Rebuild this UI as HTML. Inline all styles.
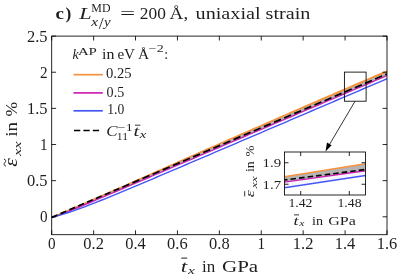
<!DOCTYPE html><html><head><meta charset="utf-8"><style>html,body{margin:0;padding:0;background:#fff}svg{display:block}</style></head><body><svg width="401" height="277" viewBox="0 0 401 277" font-family="'Liberation Serif', serif" fill="#000">
<rect width="401" height="277" fill="#fff"/>
<defs><filter id="gf" x="0" y="0" width="401" height="277" filterUnits="userSpaceOnUse"><feOffset dx="0" dy="0"/></filter><clipPath id="cm"><rect x="51.70" y="36.10" width="335.30" height="198.60"/></clipPath><clipPath id="ci"><rect x="284.50" y="152.00" width="81.00" height="43.00"/></clipPath></defs>
<g clip-path="url(#cm)" fill="none" stroke-linecap="butt">
<path d="M51.70,217.38 L55.89,215.58 L60.08,213.79 L64.27,211.99 L68.46,210.18 L72.66,208.37 L76.85,206.56 L81.04,204.75 L85.23,202.93 L89.42,201.11 L93.61,199.29 L97.80,197.46 L101.99,195.63 L106.19,193.80 L110.38,191.97 L114.57,190.13 L118.76,188.29 L122.95,186.45 L127.14,184.61 L131.33,182.77 L135.52,180.92 L139.72,179.07 L143.91,177.23 L148.10,175.38 L152.29,173.53 L156.48,171.68 L160.67,169.83 L164.86,167.97 L169.05,166.12 L173.24,164.27 L177.44,162.42 L181.63,160.57 L185.82,158.72 L190.01,156.87 L194.20,155.02 L198.39,153.17 L202.58,151.32 L206.77,149.47 L210.97,147.63 L215.16,145.78 L219.35,143.94 L223.54,142.10 L227.73,140.26 L231.92,138.42 L236.11,136.58 L240.30,134.74 L244.50,132.91 L248.69,131.07 L252.88,129.24 L257.07,127.41 L261.26,125.58 L265.45,123.75 L269.64,121.93 L273.83,120.10 L278.02,118.28 L282.22,116.46 L286.41,114.64 L290.60,112.82 L294.79,111.00 L298.98,109.18 L303.17,107.37 L307.36,105.55 L311.55,103.74 L315.75,101.93 L319.94,100.12 L324.13,98.31 L328.32,96.50 L332.51,94.70 L336.70,92.89 L340.89,91.09 L345.08,89.28 L349.28,87.48 L353.47,85.68 L357.66,83.87 L361.85,82.07 L366.04,80.27 L370.23,78.47 L374.42,76.67 L378.61,74.87 L382.80,73.08 L387.00,71.28 L387.00,75.56 L382.80,77.36 L378.61,79.15 L374.42,80.94 L370.23,82.74 L366.04,84.53 L361.85,86.32 L357.66,88.11 L353.47,89.91 L349.28,91.70 L345.08,93.49 L340.89,95.28 L336.70,97.08 L332.51,98.87 L328.32,100.66 L324.13,102.45 L319.94,104.25 L315.75,106.04 L311.55,107.83 L307.36,109.62 L303.17,111.42 L298.98,113.21 L294.79,115.00 L290.60,116.79 L286.41,118.59 L282.22,120.38 L278.02,122.17 L273.83,123.96 L269.64,125.76 L265.45,127.55 L261.26,129.34 L257.07,131.13 L252.88,132.93 L248.69,134.72 L244.50,136.51 L240.30,138.30 L236.11,140.10 L231.92,141.89 L227.73,143.68 L223.54,145.47 L219.35,147.27 L215.16,149.06 L210.97,150.85 L206.77,152.64 L202.58,154.44 L198.39,156.23 L194.20,158.02 L190.01,159.81 L185.82,161.61 L181.63,163.40 L177.44,165.19 L173.24,166.98 L169.05,168.78 L164.86,170.57 L160.67,172.36 L156.48,174.15 L152.29,175.95 L148.10,177.74 L143.91,179.53 L139.72,181.32 L135.52,183.12 L131.33,184.91 L127.14,186.70 L122.95,188.49 L118.76,190.28 L114.57,192.07 L110.38,193.86 L106.19,195.64 L101.99,197.43 L97.80,199.21 L93.61,200.99 L89.42,202.76 L85.23,204.52 L81.04,206.27 L76.85,208.00 L72.66,209.71 L68.46,211.38 L64.27,213.01 L60.08,214.57 L55.89,216.04 L51.70,217.38Z" fill="#b4b4b4" stroke="none"/>
<path d="M51.70,216.68 L55.89,214.88 L60.08,213.08 L64.27,211.27 L68.46,209.46 L72.66,207.65 L76.85,205.83 L81.04,204.01 L85.23,202.19 L89.42,200.36 L93.61,198.54 L97.80,196.71 L101.99,194.87 L106.19,193.03 L110.38,191.20 L114.57,189.35 L118.76,187.51 L122.95,185.67 L127.14,183.82 L131.33,181.97 L135.52,180.12 L139.72,178.27 L143.91,176.42 L148.10,174.56 L152.29,172.71 L156.48,170.85 L160.67,169.00 L164.86,167.14 L169.05,165.28 L173.24,163.43 L177.44,161.57 L181.63,159.71 L185.82,157.86 L190.01,156.00 L194.20,154.15 L198.39,152.29 L202.58,150.44 L206.77,148.59 L210.97,146.74 L215.16,144.89 L219.35,143.04 L223.54,141.19 L227.73,139.35 L231.92,137.50 L236.11,135.66 L240.30,133.82 L244.50,131.98 L248.69,130.14 L252.88,128.30 L257.07,126.46 L261.26,124.63 L265.45,122.80 L269.64,120.97 L273.83,119.14 L278.02,117.31 L282.22,115.48 L286.41,113.66 L290.60,111.83 L294.79,110.01 L298.98,108.19 L303.17,106.37 L307.36,104.55 L311.55,102.73 L315.75,100.92 L319.94,99.10 L324.13,97.29 L328.32,95.47 L332.51,93.66 L336.70,91.85 L340.89,90.04 L345.08,88.23 L349.28,86.42 L353.47,84.62 L357.66,82.81 L361.85,81.00 L366.04,79.20 L370.23,77.39 L374.42,75.59 L378.61,73.78 L382.80,71.98 L387.00,70.18 L387.00,72.38 L382.80,74.17 L378.61,75.96 L374.42,77.76 L370.23,79.55 L366.04,81.35 L361.85,83.14 L357.66,84.94 L353.47,86.74 L349.28,88.53 L345.08,90.33 L340.89,92.13 L336.70,93.93 L332.51,95.73 L328.32,97.53 L324.13,99.34 L319.94,101.14 L315.75,102.95 L311.55,104.75 L307.36,106.56 L303.17,108.37 L298.98,110.18 L294.79,111.99 L290.60,113.80 L286.41,115.62 L282.22,117.43 L278.02,119.25 L273.83,121.07 L269.64,122.89 L265.45,124.71 L261.26,126.53 L257.07,128.35 L252.88,130.18 L248.69,132.01 L244.50,133.84 L240.30,135.67 L236.11,137.50 L231.92,139.33 L227.73,141.17 L223.54,143.00 L219.35,144.84 L215.16,146.68 L210.97,148.52 L206.77,150.36 L202.58,152.20 L198.39,154.04 L194.20,155.89 L190.01,157.73 L185.82,159.58 L181.63,161.42 L177.44,163.27 L173.24,165.12 L169.05,166.96 L164.86,168.81 L160.67,170.66 L156.48,172.50 L152.29,174.35 L148.10,176.19 L143.91,178.04 L139.72,179.88 L135.52,181.72 L131.33,183.56 L127.14,185.40 L122.95,187.24 L118.76,189.07 L114.57,190.90 L110.38,192.74 L106.19,194.56 L101.99,196.39 L97.80,198.22 L93.61,200.04 L89.42,201.85 L85.23,203.67 L81.04,205.48 L76.85,207.29 L72.66,209.10 L68.46,210.90 L64.27,212.70 L60.08,214.50 L55.89,216.29 L51.70,218.08Z" fill="#f5923e" stroke="none"/>
<path d="M51.70,217.38 L55.89,216.04 L60.08,214.57 L64.27,213.01 L68.46,211.38 L72.66,209.71 L76.85,208.00 L81.04,206.27 L85.23,204.52 L89.42,202.76 L93.61,200.99 L97.80,199.21 L101.99,197.43 L106.19,195.64 L110.38,193.86 L114.57,192.07 L118.76,190.28 L122.95,188.49 L127.14,186.70 L131.33,184.91 L135.52,183.12 L139.72,181.32 L143.91,179.53 L148.10,177.74 L152.29,175.95 L156.48,174.15 L160.67,172.36 L164.86,170.57 L169.05,168.78 L173.24,166.98 L177.44,165.19 L181.63,163.40 L185.82,161.61 L190.01,159.81 L194.20,158.02 L198.39,156.23 L202.58,154.44 L206.77,152.64 L210.97,150.85 L215.16,149.06 L219.35,147.27 L223.54,145.47 L227.73,143.68 L231.92,141.89 L236.11,140.10 L240.30,138.30 L244.50,136.51 L248.69,134.72 L252.88,132.93 L257.07,131.13 L261.26,129.34 L265.45,127.55 L269.64,125.76 L273.83,123.96 L278.02,122.17 L282.22,120.38 L286.41,118.59 L290.60,116.79 L294.79,115.00 L298.98,113.21 L303.17,111.42 L307.36,109.62 L311.55,107.83 L315.75,106.04 L319.94,104.25 L324.13,102.45 L328.32,100.66 L332.51,98.87 L336.70,97.08 L340.89,95.28 L345.08,93.49 L349.28,91.70 L353.47,89.91 L357.66,88.11 L361.85,86.32 L366.04,84.53 L370.23,82.74 L374.42,80.94 L378.61,79.15 L382.80,77.36 L387.00,75.56" stroke="#cc22b4" stroke-width="1.4"/>
<path d="M51.70,217.38 L55.89,216.32 L60.08,215.15 L64.27,213.88 L68.46,212.53 L72.66,211.11 L76.85,209.64 L81.04,208.12 L85.23,206.55 L89.42,204.95 L93.61,203.32 L97.80,201.67 L101.99,199.99 L106.19,198.30 L110.38,196.59 L114.57,194.87 L118.76,193.14 L122.95,191.39 L127.14,189.65 L131.33,187.89 L135.52,186.13 L139.72,184.36 L143.91,182.59 L148.10,180.82 L152.29,179.04 L156.48,177.26 L160.67,175.48 L164.86,173.70 L169.05,171.91 L173.24,170.13 L177.44,168.34 L181.63,166.55 L185.82,164.76 L190.01,162.98 L194.20,161.19 L198.39,159.40 L202.58,157.61 L206.77,155.81 L210.97,154.02 L215.16,152.23 L219.35,150.44 L223.54,148.65 L227.73,146.86 L231.92,145.07 L236.11,143.27 L240.30,141.48 L244.50,139.69 L248.69,137.90 L252.88,136.11 L257.07,134.31 L261.26,132.52 L265.45,130.73 L269.64,128.94 L273.83,127.14 L278.02,125.35 L282.22,123.56 L286.41,121.77 L290.60,119.97 L294.79,118.18 L298.98,116.39 L303.17,114.60 L307.36,112.80 L311.55,111.01 L315.75,109.22 L319.94,107.43 L324.13,105.63 L328.32,103.84 L332.51,102.05 L336.70,100.26 L340.89,98.46 L345.08,96.67 L349.28,94.88 L353.47,93.09 L357.66,91.29 L361.85,89.50 L366.04,87.71 L370.23,85.92 L374.42,84.12 L378.61,82.33 L382.80,80.54 L387.00,78.75" stroke="#4457f5" stroke-width="1.4"/>
<path d="M51.70,217.38 L122.30,187.18" stroke="#000" stroke-width="1.7" stroke-dasharray="6.2 3.42"/>
<path d="M122.30,187.18 L387.00,73.97" stroke="#000" stroke-width="1.7" stroke-dasharray="7.5 3.5"/>
</g>
<rect x="51.70" y="36.10" width="335.30" height="198.60" fill="none" stroke="#000" stroke-width="0.85"/>
<path d="M51.70,234.70 v-4.40 M51.70,36.10 v4.40 M93.61,234.70 v-4.40 M93.61,36.10 v4.40 M135.52,234.70 v-4.40 M135.52,36.10 v4.40 M177.44,234.70 v-4.40 M177.44,36.10 v4.40 M219.35,234.70 v-4.40 M219.35,36.10 v4.40 M261.26,234.70 v-4.40 M261.26,36.10 v4.40 M303.17,234.70 v-4.40 M303.17,36.10 v4.40 M345.08,234.70 v-4.40 M345.08,36.10 v4.40 M387.00,234.70 v-4.40 M387.00,36.10 v4.40 M51.70,216.80 h4.40 M387.00,216.80 h-4.40 M51.70,180.66 h4.40 M387.00,180.66 h-4.40 M51.70,144.52 h4.40 M387.00,144.52 h-4.40 M51.70,108.38 h4.40 M387.00,108.38 h-4.40 M51.70,72.24 h4.40 M387.00,72.24 h-4.40 M51.70,36.10 h4.40 M387.00,36.10 h-4.40" stroke="#000" stroke-width="0.85" fill="none"/>
<rect x="344.4" y="72.1" width="21.7" height="29.1" fill="none" stroke="#000" stroke-width="0.85"/>
<path d="M355,101.3 L328.5,146.2" stroke="#000" stroke-width="0.8" fill="none"/>
<path d="M325.5,151.4 L327.0,142.6 L331.6,145.3 Z" fill="#000"/>
<rect x="284.50" y="152.00" width="81.00" height="43.00" fill="#fff"/>
<g clip-path="url(#ci)" fill="none">
<path d="M284.5,176.8 L365.5,163.8 L365.5,170.8 L284.5,182.1Z" fill="#b4b4b4"/>
<path d="M284.5,182.1 L365.5,170.8 L365.5,175.5 L284.5,187.7Z" fill="#f6f5fc"/>
<path d="M284.5,176.8 L365.5,163.8" stroke="#f5923e" stroke-width="1.4"/>
<path d="M284.5,182.1 L365.5,170.8" stroke="#cc22b4" stroke-width="1.4"/>
<path d="M284.5,187.7 L365.5,175.5" stroke="#4457f5" stroke-width="1.4"/>
<path d="M284.5,180.0 L365.5,169.5" stroke="#000" stroke-width="1.6" stroke-dasharray="5.5 3.1" stroke-dashoffset="2.5"/>
</g>
<rect x="284.50" y="152.00" width="81.00" height="43.00" fill="none" stroke="#000" stroke-width="0.85"/>
<path d="M300.70,195.00 v-4.00 M300.70,152.00 v4.00 M349.30,195.00 v-4.00 M349.30,152.00 v4.00 M284.50,184.25 h4.00 M365.50,184.25 h-4.00 M284.50,162.75 h4.00 M365.50,162.75 h-4.00" stroke="#000" stroke-width="0.85" fill="none"/>
<path d="M73.5,74.7 H102.8" stroke="#f5923e" stroke-width="1.7"/>
<path d="M73.5,92.9 H102.8" stroke="#cc22b4" stroke-width="1.7"/>
<path d="M73.5,110.8 H102.8" stroke="#4457f5" stroke-width="1.7"/>
<path d="M74,130.5 H100" stroke="#000" stroke-width="1.6" stroke-dasharray="6.3 3.1"/>
<g opacity="0.88" filter="url(#gf)">
<text x="40.00" y="222.40" font-size="16.40" text-anchor="start" textLength="7.60" lengthAdjust="spacingAndGlyphs" >0</text>
<text x="27.00" y="186.26" font-size="16.40" text-anchor="start" textLength="20.60" lengthAdjust="spacingAndGlyphs" >0.5</text>
<text x="40.00" y="150.12" font-size="16.40" text-anchor="start" textLength="7.60" lengthAdjust="spacingAndGlyphs" >1</text>
<text x="27.00" y="113.98" font-size="16.40" text-anchor="start" textLength="20.60" lengthAdjust="spacingAndGlyphs" >1.5</text>
<text x="40.00" y="77.84" font-size="16.40" text-anchor="start" textLength="7.60" lengthAdjust="spacingAndGlyphs" >2</text>
<text x="27.00" y="41.70" font-size="16.40" text-anchor="start" textLength="20.60" lengthAdjust="spacingAndGlyphs" >2.5</text>
<text x="47.90" y="249.30" font-size="16.40" text-anchor="start" textLength="7.60" lengthAdjust="spacingAndGlyphs" >0</text>
<text x="83.31" y="249.30" font-size="16.40" text-anchor="start" textLength="20.60" lengthAdjust="spacingAndGlyphs" >0.2</text>
<text x="125.22" y="249.30" font-size="16.40" text-anchor="start" textLength="20.60" lengthAdjust="spacingAndGlyphs" >0.4</text>
<text x="167.14" y="249.30" font-size="16.40" text-anchor="start" textLength="20.60" lengthAdjust="spacingAndGlyphs" >0.6</text>
<text x="209.05" y="249.30" font-size="16.40" text-anchor="start" textLength="20.60" lengthAdjust="spacingAndGlyphs" >0.8</text>
<text x="257.46" y="249.30" font-size="16.40" text-anchor="start" textLength="7.60" lengthAdjust="spacingAndGlyphs" >1</text>
<text x="292.87" y="249.30" font-size="16.40" text-anchor="start" textLength="20.60" lengthAdjust="spacingAndGlyphs" >1.2</text>
<text x="334.78" y="249.30" font-size="16.40" text-anchor="start" textLength="20.60" lengthAdjust="spacingAndGlyphs" >1.4</text>
<text x="376.70" y="249.30" font-size="16.40" text-anchor="start" textLength="20.60" lengthAdjust="spacingAndGlyphs" >1.6</text>
<text x="180.80" y="271.60" font-size="16.40" text-anchor="start" textLength="6.50" lengthAdjust="spacingAndGlyphs" font-style="italic" >t</text>
<path d="M181.2,258.1 H187.2" stroke="#000" stroke-width="1.0"/>
<text x="188.00" y="273.80" font-size="11.00" text-anchor="start" textLength="6.80" lengthAdjust="spacingAndGlyphs" font-style="italic" >x</text>
<text x="202.00" y="271.60" font-size="16.40" text-anchor="start" textLength="13.20" lengthAdjust="spacingAndGlyphs" >in</text>
<text x="222.00" y="271.60" font-size="16.40" text-anchor="start" textLength="36.20" lengthAdjust="spacingAndGlyphs" >GPa</text>
<g transform="translate(16.8,167) rotate(-90)">
<text x="0.20" y="0.00" font-size="18.00" text-anchor="start" textLength="8.60" lengthAdjust="spacingAndGlyphs" font-style="italic" >ε</text>
<path d="M0.8,-10.9 c0.8,-2.2 2.2,-2.2 3.6,-1.0 s2.8,1.2 3.6,-1.0" stroke="#000" stroke-width="1.0" fill="none"/>
<text x="11.00" y="3.80" font-size="11.00" text-anchor="start" textLength="14.60" lengthAdjust="spacingAndGlyphs" font-style="italic" >xx</text>
<text x="30.30" y="0.00" font-size="16.40" text-anchor="start" textLength="14.80" lengthAdjust="spacingAndGlyphs" >in</text>
<text x="50.60" y="0.00" font-size="16.40" text-anchor="start" textLength="14.60" lengthAdjust="spacingAndGlyphs" >%</text>
</g>
<text x="55.40" y="18.60" font-size="17.00" text-anchor="start" textLength="8.40" lengthAdjust="spacingAndGlyphs" font-weight="bold" >c</text>
<text x="65.60" y="18.60" font-size="17.00" text-anchor="start" textLength="5.80" lengthAdjust="spacingAndGlyphs" font-weight="bold" >)</text>
<text x="79.20" y="18.60" font-size="17.00" text-anchor="start" textLength="12.40" lengthAdjust="spacingAndGlyphs" font-style="italic" >L</text>
<text x="91.30" y="11.50" font-size="12.50" text-anchor="start" textLength="19.20" lengthAdjust="spacingAndGlyphs" >MD</text>
<text x="91.20" y="26.00" font-size="11.60" text-anchor="start" textLength="6.80" lengthAdjust="spacingAndGlyphs" font-style="italic" >x</text>
<path d="M99.2,28.9 L103.2,17.9" stroke="#000" stroke-width="0.85" fill="none"/>
<text x="103.90" y="26.00" font-size="11.60" text-anchor="start" textLength="6.60" lengthAdjust="spacingAndGlyphs" font-style="italic" >y</text>
<text x="120.00" y="18.90" font-size="17.00" text-anchor="start" textLength="15.20" lengthAdjust="spacingAndGlyphs" >=</text>
<text x="139.80" y="18.80" font-size="17.00" text-anchor="start" textLength="26.00" lengthAdjust="spacingAndGlyphs" >200</text>
<text x="169.60" y="18.80" font-size="17.00" text-anchor="start" textLength="18.60" lengthAdjust="spacingAndGlyphs" >Å,</text>
<text x="195.60" y="18.80" font-size="17.00" text-anchor="start" textLength="114.80" lengthAdjust="spacingAndGlyphs" >uniaxial strain</text>
<text x="72.40" y="58.50" font-size="13.80" text-anchor="start" textLength="6.20" lengthAdjust="spacingAndGlyphs" font-style="italic" >k</text>
<text x="77.90" y="55.00" font-size="10.50" text-anchor="start" textLength="19.00" lengthAdjust="spacingAndGlyphs" >AP</text>
<text x="102.10" y="58.50" font-size="13.80" text-anchor="start" textLength="12.40" lengthAdjust="spacingAndGlyphs" >in</text>
<text x="117.40" y="58.50" font-size="13.80" text-anchor="start" textLength="17.60" lengthAdjust="spacingAndGlyphs" >eV</text>
<text x="138.00" y="58.50" font-size="13.80" text-anchor="start" textLength="11.20" lengthAdjust="spacingAndGlyphs" >Å</text>
<text x="148.80" y="52.00" font-size="10.40" text-anchor="start" textLength="14.80" lengthAdjust="spacingAndGlyphs" >−2</text>
<text x="164.20" y="58.50" font-size="13.80" text-anchor="start" >:</text>
<text x="106.00" y="78.30" font-size="13.80" text-anchor="start" textLength="25.60" lengthAdjust="spacingAndGlyphs" >0.25</text>
<text x="106.60" y="96.50" font-size="13.80" text-anchor="start" textLength="17.60" lengthAdjust="spacingAndGlyphs" >0.5</text>
<text x="107.20" y="114.40" font-size="13.80" text-anchor="start" textLength="17.00" lengthAdjust="spacingAndGlyphs" >1.0</text>
<text x="106.30" y="136.40" font-size="14.20" text-anchor="start" textLength="11.30" lengthAdjust="spacingAndGlyphs" font-style="italic" >C</text>
<text x="117.80" y="131.10" font-size="10.40" text-anchor="start" textLength="14.80" lengthAdjust="spacingAndGlyphs" >−1</text>
<text x="116.80" y="139.80" font-size="10.40" text-anchor="start" textLength="11.20" lengthAdjust="spacingAndGlyphs" >11</text>
<text x="133.40" y="136.20" font-size="13.80" text-anchor="start" textLength="5.80" lengthAdjust="spacingAndGlyphs" font-style="italic" >t</text>
<path d="M135.0,125.2 H140.4" stroke="#000" stroke-width="0.9"/>
<text x="139.70" y="137.70" font-size="10.00" text-anchor="start" textLength="6.60" lengthAdjust="spacingAndGlyphs" font-style="italic" >x</text>
<text x="262.60" y="167.30" font-size="13.20" text-anchor="start" textLength="18.60" lengthAdjust="spacingAndGlyphs" >1.9</text>
<text x="262.60" y="188.60" font-size="13.20" text-anchor="start" textLength="18.60" lengthAdjust="spacingAndGlyphs" >1.7</text>
<text x="288.40" y="207.10" font-size="13.20" text-anchor="start" textLength="24.00" lengthAdjust="spacingAndGlyphs" >1.42</text>
<text x="337.50" y="207.10" font-size="13.20" text-anchor="start" textLength="24.00" lengthAdjust="spacingAndGlyphs" >1.48</text>
<text x="293.40" y="224.50" font-size="13.20" text-anchor="start" textLength="5.00" lengthAdjust="spacingAndGlyphs" font-style="italic" >t</text>
<path d="M294,214.9 H299" stroke="#000" stroke-width="0.9"/>
<text x="299.20" y="225.80" font-size="8.60" text-anchor="start" textLength="5.20" lengthAdjust="spacingAndGlyphs" font-style="italic" >x</text>
<text x="312.00" y="224.50" font-size="13.20" text-anchor="start" textLength="11.00" lengthAdjust="spacingAndGlyphs" >in</text>
<text x="328.30" y="224.50" font-size="13.20" text-anchor="start" textLength="27.60" lengthAdjust="spacingAndGlyphs" >GPa</text>
<g transform="translate(254.3,197.2) rotate(-90)">
<text x="0.00" y="0.00" font-size="13.20" text-anchor="start" textLength="7.00" lengthAdjust="spacingAndGlyphs" font-style="italic" >ε</text>
<path d="M0.8,-9.6 H6.0" stroke="#000" stroke-width="0.9"/>
<text x="8.90" y="3.10" font-size="8.40" text-anchor="start" textLength="12.00" lengthAdjust="spacingAndGlyphs" font-style="italic" >xx</text>
<text x="25.20" y="0.00" font-size="13.20" text-anchor="start" textLength="10.80" lengthAdjust="spacingAndGlyphs" >in</text>
<text x="40.60" y="0.00" font-size="13.20" text-anchor="start" textLength="11.00" lengthAdjust="spacingAndGlyphs" >%</text>
</g>
</g>
</svg></body></html>
